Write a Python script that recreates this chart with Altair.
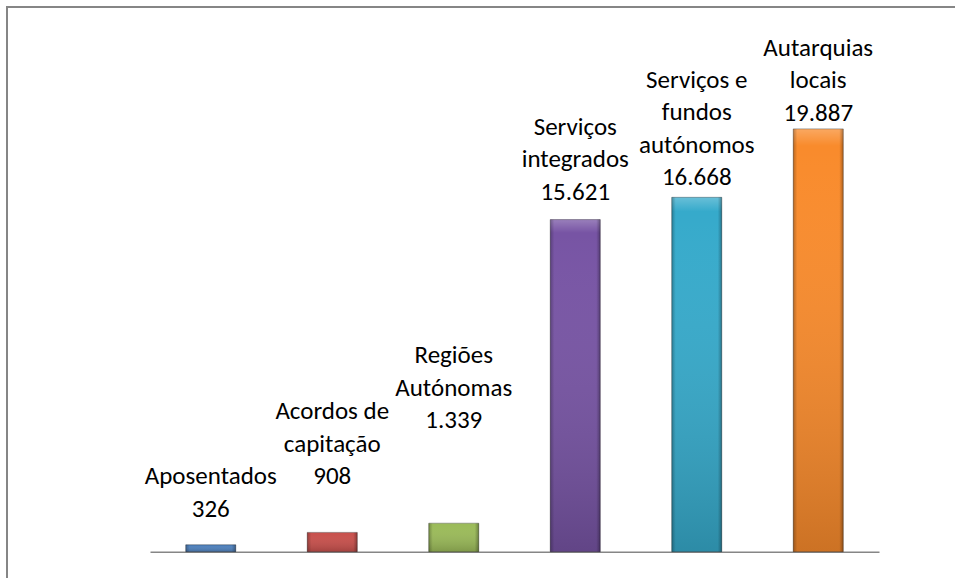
import altair as alt
import pandas as pd

categories = ["Aposentados", "Acordos de capitação", "Regiões Autónomas",
              "Serviços integrados", "Serviços e fundos autónomos", "Autarquias locais"]
label_lines = [["Aposentados"], ["Acordos de", "capitação"], ["Regiões", "Autónomas"],
               ["Serviços", "integrados"], ["Serviços e", "fundos", "autónomos"],
               ["Autarquias", "locais"]]
values = [326, 908, 1339, 15621, 16668, 19887]
# how far each data label sits above its bar (data units)
label_lift = [1080, 2020, 4230, 710, 330, 140]
colors = ["#4F81BD", "#C8504C", "#9BBB59", "#7754A4", "#36AACB", "#F98B2C"]

bar_df = pd.DataFrame({"cat": categories, "value": values})

lab_rows = []
for c, ll, v, lift in zip(categories, label_lines, values, label_lift):
    lines = ll + [f"{v:,}".replace(",", ".")]
    n = len(lines)
    for i, t in enumerate(lines):
        lab_rows.append({"cat": c, "line": t, "k": n - 1 - i, "label_y": v + lift})
lab_df = pd.DataFrame(lab_rows)

FONT = "Carlito, Calibri, Lato"
LINE_H = 32.5

x = alt.X("cat:N", sort=categories, axis=alt.Axis(title=None, labels=False, ticks=False,
                                                  domainColor="#868686", domainWidth=1.6),
          scale=alt.Scale(paddingInner=0, paddingOuter=0))
y = alt.Y("value:Q", axis=None, scale=alt.Scale(domain=[0, 25000], nice=False))

base = alt.Chart(bar_df)

bars = base.mark_bar(size=50, stroke="rgba(0,0,0,0.35)", strokeWidth=1).encode(
    x=x, y=y,
    color=alt.Color("cat:N", sort=categories, legend=None,
                    scale=alt.Scale(domain=categories, range=colors)))

shade_v = base.mark_bar(size=50, color=alt.LinearGradient(
    gradient="linear", x1=0, x2=0, y1=0, y2=1,
    stops=[alt.GradientStop(offset=0, color="rgba(255,255,255,0.25)"),
           alt.GradientStop(offset=0.04, color="rgba(255,255,255,0.0)"),
           alt.GradientStop(offset=1, color="rgba(0,0,0,0.18)")])).encode(x=x, y=y)

shade_h = base.mark_bar(size=50, color=alt.LinearGradient(
    gradient="linear", x1=0, x2=1, y1=0, y2=0,
    stops=[alt.GradientStop(offset=0, color="rgba(0,0,0,0.25)"),
           alt.GradientStop(offset=0.08, color="rgba(0,0,0,0.0)"),
           alt.GradientStop(offset=0.92, color="rgba(0,0,0,0.0)"),
           alt.GradientStop(offset=1, color="rgba(0,0,0,0.3)")])).encode(x=x, y=y)

label_layers = []
for k in range(4):
    label_layers.append(
        alt.Chart(lab_df).transform_filter(alt.datum.k == k).mark_text(
            font=FONT, fontSize=25, baseline="bottom", align="center",
            color="#000000", dy=-LINE_H * k).encode(
            x=alt.X("cat:N", sort=categories), y=alt.Y("label_y:Q"), text="line:N"))

frame_top = base.mark_rule(color="#868686", strokeWidth=2).encode(
    x=alt.value(-143), x2=alt.value(820), y=alt.value(-13.2))
frame_left = base.mark_rule(color="#868686", strokeWidth=2).encode(
    x=alt.value(-143), y=alt.value(-14), y2=alt.value(570))

chart = alt.layer(bars, shade_v, shade_h, *label_layers, frame_top, frame_left).properties(
    width=729, height=531.5,
    background="white",
    autosize=alt.AutoSizeParams(type="none"),
    padding={"left": 150, "top": 20.2, "right": 76, "bottom": 26.3},
).configure_view(stroke=None, strokeWidth=0)

chart.save("out.html", embed_options={"renderer": "svg", "actions": False})
